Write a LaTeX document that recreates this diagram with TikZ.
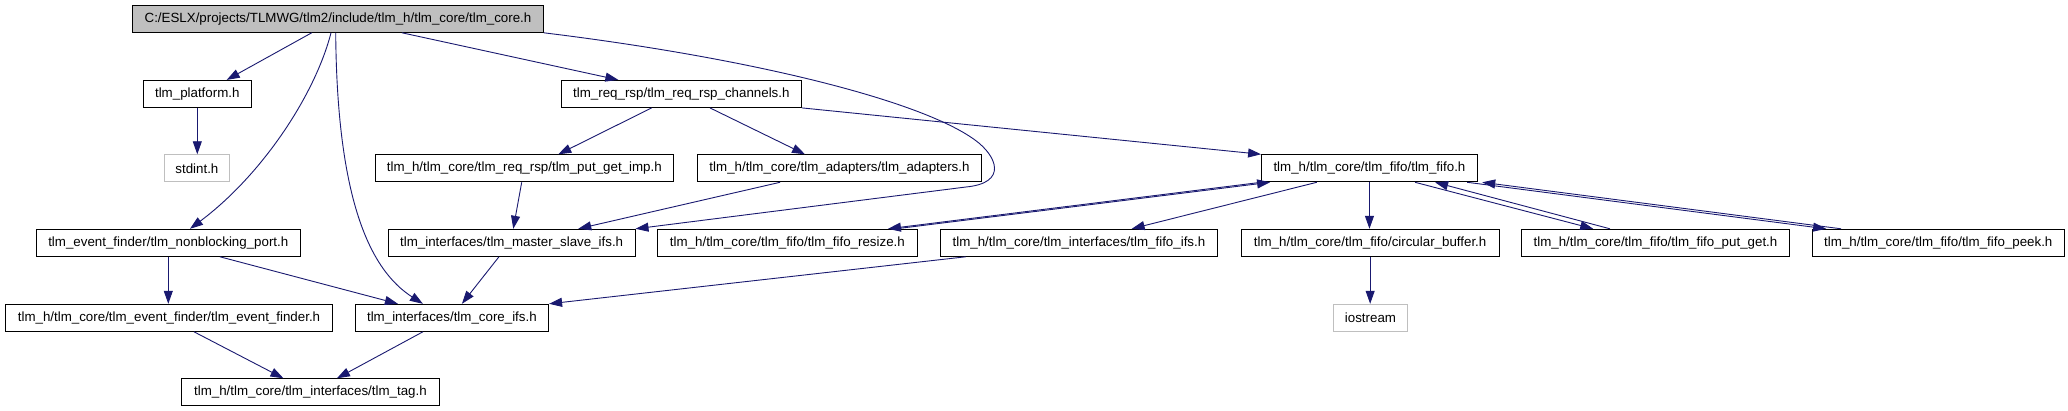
\documentclass[tikz,border=0pt]{standalone}
\usepackage{fontspec}
\setmainfont{Liberation Sans}
\usetikzlibrary{arrows.meta}
\definecolor{edgec}{HTML}{191970}
\definecolor{grayc}{HTML}{BFBFBF}
\begin{document}
\begin{tikzpicture}[x=1pt,y=-1pt,
  box/.style={draw=black, line width=1pt, inner sep=0pt, minimum height=27pt,
    font=\fontsize{13.33}{16}\selectfont, text=black},
  extbox/.style={box, draw=grayc},
  rootbox/.style={box, fill=grayc},
  edge/.style={draw=edgec, line width=0.9pt, -{Triangle[length=13pt,width=9pt]}, fill=none}
]
\fill[white] (0,0) rectangle (2068,411);
\useasboundingbox (0,0) rectangle (2068,411);

% nodes
\node[rootbox, minimum width=410.7pt] (root) at (338,18.8) {C:/ESLX/projects/TLMWG/tlm2/include/tlm\_h/tlm\_core/tlm\_core.h};
\node[box, minimum width=108pt] (platform) at (197.3,93.9) {tlm\_platform.h};
\node[extbox, minimum width=65pt] (stdint) at (196.9,168.3) {stdint.h};
\node[box, minimum width=240pt] (reqrsp) at (681.35,93.9) {tlm\_req\_rsp/tlm\_req\_rsp\_channels.h};
\node[box, minimum width=298pt] (putgetimp) at (524.3,168.3) {tlm\_h/tlm\_core/tlm\_req\_rsp/tlm\_put\_get\_imp.h};
\node[box, minimum width=284.2pt] (adapters) at (839.5,168.3) {tlm\_h/tlm\_core/tlm\_adapters/tlm\_adapters.h};
\node[box, minimum width=215.7pt] (fifo) at (1369.45,168.3) {tlm\_h/tlm\_core/tlm\_fifo/tlm\_fifo.h};
\node[box, minimum width=263.4pt] (nonblock) at (168.3,242.8) {tlm\_event\_finder/tlm\_nonblocking\_port.h};
\node[box, minimum width=246.7pt] (msifs) at (511.65,242.8) {tlm\_interfaces/tlm\_master\_slave\_ifs.h};
\node[box, minimum width=260pt] (resize) at (787.4,242.8) {tlm\_h/tlm\_core/tlm\_fifo/tlm\_fifo\_resize.h};
\node[box, minimum width=276.9pt] (fifoifs) at (1078.95,242.8) {tlm\_h/tlm\_core/tlm\_interfaces/tlm\_fifo\_ifs.h};
\node[box, minimum width=258.1pt] (circ) at (1370.15,242.8) {tlm\_h/tlm\_core/tlm\_fifo/circular\_buffer.h};
\node[box, minimum width=267.5pt] (putget) at (1655.45,242.8) {tlm\_h/tlm\_core/tlm\_fifo/tlm\_fifo\_put\_get.h};
\node[box, minimum width=251.4pt] (peek) at (1938.3,242.8) {tlm\_h/tlm\_core/tlm\_fifo/tlm\_fifo\_peek.h};
\node[box, minimum width=327.2pt] (evfinder) at (169,317.8) {tlm\_h/tlm\_core/tlm\_event\_finder/tlm\_event\_finder.h};
\node[box, minimum width=193.4pt] (coreifs) at (451.9,317.8) {tlm\_interfaces/tlm\_core\_ifs.h};
\node[extbox, minimum width=73.9pt] (iostream) at (1370.45,317.8) {iostream};
\node[box, minimum width=258.5pt] (tag) at (310.45,392.3) {tlm\_h/tlm\_core/tlm\_interfaces/tlm\_tag.h};

% edges
\draw[edge] ([xshift=-26.3pt]root.south) -- ([xshift=29.4pt]platform.north);
\draw[edge] (platform.south) -- (platform.south |- stdint.north);
\draw[edge] ([xshift=-7pt]root.south) .. controls (315,95) and (262,175) .. ([xshift=21.7pt]nonblock.north);
\draw[edge] ([xshift=-2.3pt]root.south) .. controls (337,200) and (370,270) .. ([xshift=-29pt]coreifs.north);
\draw[edge] ([xshift=64pt]root.south) -- ([xshift=-63pt]reqrsp.north);
\draw[edge] (root.south east) .. controls (750,58) and (920,100) .. (975,140)
  .. controls (997,156) and (1008,183) .. (966,187) -- (msifs.north east);
\draw[edge] ([xshift=-29.7pt]reqrsp.south) -- ([xshift=34pt]putgetimp.north);
\draw[edge] ([xshift=28.6pt]reqrsp.south) -- ([xshift=-34.5pt]adapters.north);
\draw[edge] (reqrsp.south east) -- (fifo.north west);
\draw[edge] ([xshift=-2.6pt]putgetimp.south) -- ([xshift=1.6pt]msifs.north);
\draw[edge] ([xshift=-59.5pt]adapters.south) -- ([xshift=66.6pt]msifs.north);
\draw[edge] (nonblock.south) -- (nonblock.south |- evfinder.north);
\draw[edge] ([xshift=51.7pt]nonblock.south) -- ([xshift=-54pt]coreifs.north);
\draw[edge] ([xshift=-12.7pt]msifs.south) -- ([xshift=10pt]coreifs.north);
\draw[edge] ([xshift=-113.3pt]fifoifs.south) -- (coreifs.north east);
\draw[edge] ([xshift=25pt]evfinder.south) -- ([xshift=-27pt]tag.north);
\draw[edge] ([xshift=-29pt]coreifs.south) -- ([xshift=26.5pt]tag.north);
\draw[edge] (fifo.south west) -- ([xshift=-30pt]resize.north east);
\draw[edge] ([xshift=-22pt]resize.north east) -- ([xshift=9pt]fifo.south west);
\draw[edge] ([xshift=-52.7pt]fifo.south) -- ([xshift=52.7pt]fifoifs.north);
\draw[edge] (fifo.south) -- (fifo.south |- circ.north);
\draw[edge] (circ.south) -- (circ.south |- iostream.north);
\draw[edge] ([xshift=45.6pt]fifo.south) -- ([xshift=-62.2pt]putget.north);
\draw[edge] ([xshift=-45.5pt]putget.north) -- ([xshift=65.6pt]fifo.south);
\draw[edge] ([xshift=-10.6pt]fifo.south east) -- ([xshift=14pt]peek.north west);
\draw[edge] ([xshift=29pt]peek.north west) -- ([xshift=4.4pt]fifo.south east);
\end{tikzpicture}
\end{document}
